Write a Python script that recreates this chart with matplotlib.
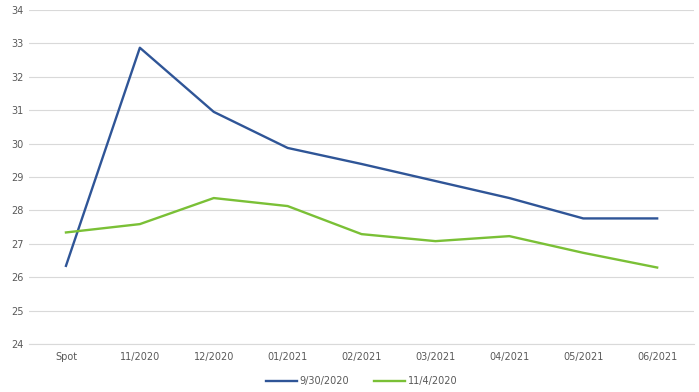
import matplotlib.pyplot as plt
import numpy as np

# categories and the two curves
labels = ['Spot', '11/2020', '12/2020', '01/2021', '02/2021', '03/2021', '04/2021', '05/2021', '06/2021']
sep30 = [26.34, 32.87, 30.95, 29.87, 29.39, 28.88, 28.37, 27.76, 27.76]
nov04 = [27.34, 27.59, 28.37, 28.13, 27.29, 27.08, 27.23, 26.73, 26.29]

fig = plt.figure(figsize=(6.99, 3.92), dpi=100)
ax = fig.add_axes([0.0415, 0.1224, 0.9515, 0.8521])

x = np.arange(len(labels))
ax.plot(x, sep30, color='#2F5597', lw=1.7, label='9/30/2020')
ax.plot(x, nov04, color='#7AC036', lw=1.7, label='11/4/2020')

ax.set_xlim(-0.5, len(labels) - 0.5)
ax.set_ylim(24, 34)
ax.set_yticks(range(24, 35))
ax.set_xticks(x)
ax.set_xticklabels(labels)
ax.tick_params(length=0, labelsize=7, colors='#595959', pad=6)
ax.tick_params(axis='y', pad=4)
ax.grid(axis='y', color='#D9D9D9', lw=0.8)
ax.set_axisbelow(True)
for s in ax.spines.values():
    s.set_visible(False)
ax.spines['bottom'].set_visible(True)
ax.spines['bottom'].set_color('#D9D9D9')
ax.spines['bottom'].set_linewidth(0.8)

ax.legend(loc='upper center', bbox_to_anchor=(0.5, -0.07), ncol=2, frameon=False,
          fontsize=7, labelcolor='#595959', handlelength=3.2, handletextpad=0.3,
          columnspacing=2.5)

fig.savefig('out.png', dpi=100)
